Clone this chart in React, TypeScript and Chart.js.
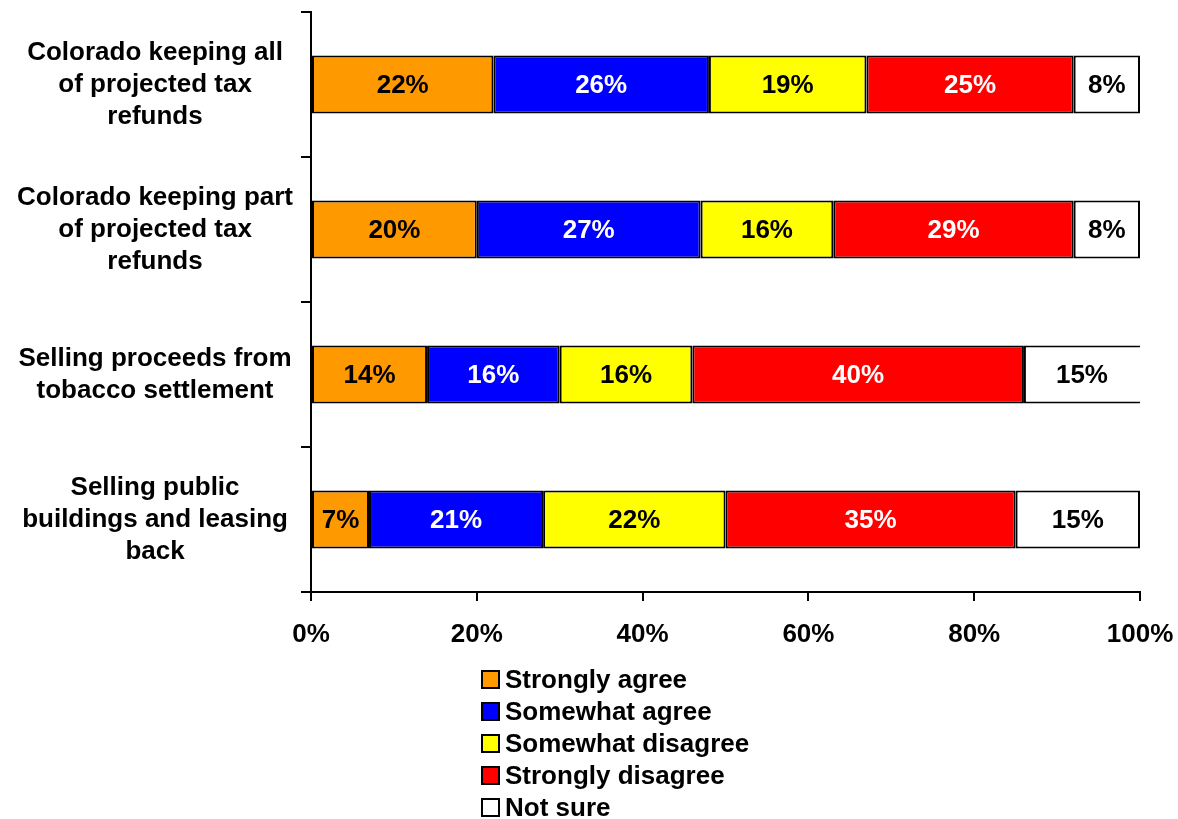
import React, { useEffect, useRef } from "react";
import { Chart, registerables } from "chart.js";

Chart.register(...registerables);

const categories: string[][] = [
  ["Colorado keeping all", "of projected tax", "refunds"],
  ["Colorado keeping part", "of projected tax", "refunds"],
  ["Selling proceeds from", "tobacco settlement"],
  ["Selling public", "buildings and leasing", "back"],
];

const seriesNames = ["Strongly agree", "Somewhat agree", "Somewhat disagree", "Strongly disagree", "Not sure"];
const stronglyAgree = [22, 20, 14, 7];
const somewhatAgree = [26, 27, 16, 21];
const somewhatDisagree = [19, 16, 16, 22];
const stronglyDisagree = [25, 29, 40, 35];
const notSure = [8, 8, 15, 15];
const seriesColors = ["#FF9900", "#0000FF", "#FFFF00", "#FF0000", "#FFFFFF"];
const labelColors = ["#000000", "#FFFFFF", "#000000", "#FFFFFF", "#000000"];
const xTicks = [0, 20, 40, 60, 80, 100];

const FONT = "Liberation Sans, Arial, sans-serif";
const FS = 26;

const valueLabelPlugin = {
  id: "valueLabels",
  afterDatasetsDraw(chart: any) {
    const ctx = chart.ctx;
    ctx.save();
    ctx.font = `bold ${FS}px ${FONT}`;
    ctx.textAlign = "center";
    ctx.textBaseline = "middle";
    chart.data.datasets.forEach((ds: any, di: number) => {
      const meta = chart.getDatasetMeta(di);
      meta.data.forEach((bar: any, i: number) => {
        const left = Math.min(bar.base, bar.x);
        const right = Math.min(Math.max(bar.base, bar.x), chart.chartArea.right);
        ctx.fillStyle = labelColors[di];
        ctx.fillText(`${ds.data[i]}%`, (left + right) / 2, bar.y + 1);
      });
    });
    ctx.restore();
  },
};

const legendPlugin = {
  id: "vertLegend",
  afterDraw(chart: any) {
    const ctx = chart.ctx;
    ctx.save();
    ctx.font = `bold ${FS}px ${FONT}`;
    ctx.textAlign = "left";
    ctx.textBaseline = "middle";
    const x0 = 482;
    const y0 = 680;
    const step = 32;
    chart.data.datasets.forEach((ds: any, di: number) => {
      const y = y0 + di * step;
      ctx.fillStyle = ds.backgroundColor;
      ctx.fillRect(x0, y - 9, 17, 17);
      ctx.lineWidth = 2;
      ctx.strokeStyle = "#000";
      ctx.strokeRect(x0, y - 9, 17, 17);
      ctx.fillStyle = "#000";
      ctx.fillText(ds.label, x0 + 23, y + 1);
    });
    ctx.restore();
  },
};

export default function App() {
  const ref = useRef<HTMLCanvasElement>(null);
  useEffect(() => {
    const allSeries = [stronglyAgree, somewhatAgree, somewhatDisagree, stronglyDisagree, notSure];
    const chart = new Chart(ref.current!, {
      type: "bar",
      data: {
        labels: categories,
        datasets: allSeries.map((d, i) => ({
          label: seriesNames[i],
          data: d,
          backgroundColor: seriesColors[i],
          borderColor: "#000",
          borderWidth: 2,
          borderSkipped: false,
          barPercentage: 0.4,
          categoryPercentage: 1,
        })),
      },
      options: {
        indexAxis: "y",
        responsive: false,
        animation: false,
        layout: { padding: { top: 12, right: 38, bottom: 167, left: 0 } },
        plugins: { legend: { display: false }, tooltip: { enabled: false } },
        scales: {
          x: {
            stacked: true,
            min: 0,
            max: 100,
            afterFit: (s: any) => { s.height = 60; s.paddingLeft = 0; s.paddingRight = 0; },
            afterBuildTicks: (s: any) => { s.ticks = xTicks.map((v) => ({ value: v })); },
            ticks: {
              color: "#000",
              font: { family: FONT, size: FS, weight: "bold" },
              callback: (v: any) => `${v}%`,
              padding: 18,
              maxRotation: 0,
            },
            grid: { drawOnChartArea: false, color: "#000", lineWidth: 2, tickLength: 9 },
            border: { color: "#000", width: 2 },
          },
          y: {
            stacked: true,
            afterFit: (s: any) => { s.width = 311; s.paddingTop = 0; s.paddingBottom = 0; },
            ticks: {
              color: "#000",
              font: { family: FONT, size: FS, weight: "bold", lineHeight: 32 / FS },
              crossAlign: "center",
              padding: 8,
            },
            grid: { drawOnChartArea: false, offset: true, color: "#000", lineWidth: 2, tickLength: 10 },
            border: { color: "#000", width: 2 },
          },
        },
      },
      plugins: [valueLabelPlugin, legendPlugin],
    } as any);
    return () => chart.destroy();
  }, []);
  return (
    <div style={{ position: "fixed", left: 0, top: 0, width: 1178, height: 819, background: "#fff" }}>
      <canvas ref={ref} width={1178} height={819} />
    </div>
  );
}
